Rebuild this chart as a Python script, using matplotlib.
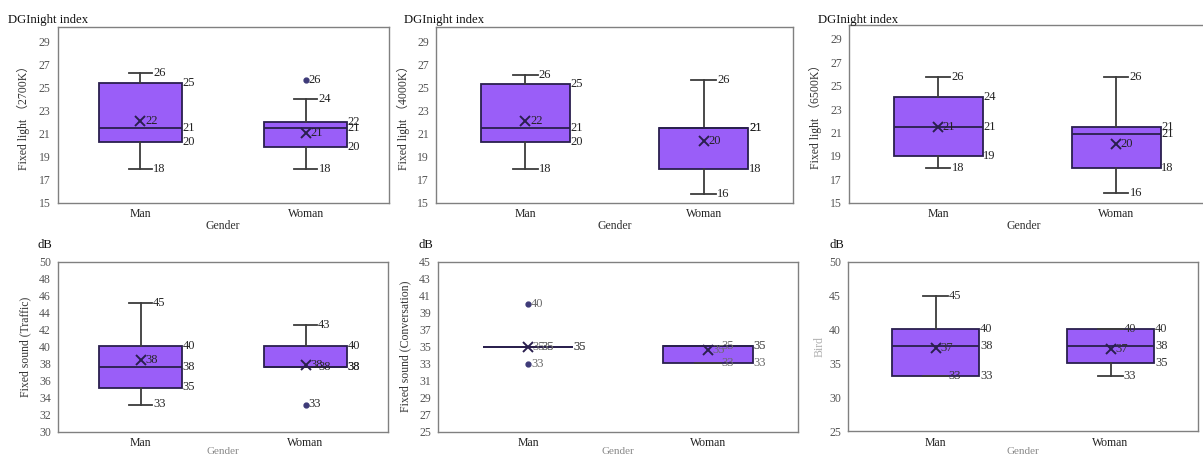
import matplotlib
matplotlib.use("Agg")
import matplotlib.pyplot as plt

plt.rcParams['font.family'] = ['Liberation Serif', 'Noto Sans CJK SC', 'DejaVu Sans']

# ---------------- data ----------------
categories = ["Man", "Woman"]
titles = ["DGInight index", "DGInight index", "DGInight index", "dB", "dB", "dB"]
ylabels = ["Fixed light （2700K）", "Fixed light （4000K）", "Fixed light （6500K）",
           "Fixed sound (Traffic)", "Fixed sound (Conversation)", "Bird"]
xlabel = "Gender"

whislo = [[17.9, 17.9], [17.9, 15.75], [18.0, 15.8], [33.2, 37.6], [35.0, 33.05], [33.2, 33.1]]
q1     = [[20.25, 19.8], [20.25, 17.9], [18.95, 18.0], [35.2, 37.6], [35.0, 33.05], [33.2, 35.0]]
med    = [[21.45, 21.45], [21.45, 21.45], [21.45, 20.85], [37.6, 37.6], [35.0, 35.05], [37.55, 37.55]]
q3     = [[25.4, 22.0], [25.3, 21.45], [24.0, 21.45], [40.08, 40.08], [35.0, 35.05], [40.05, 40.05]]
whishi = [[26.2, 23.96], [26.04, 25.6], [25.7, 25.7], [45.1, 42.6], [35.0, 35.05], [45.0, 40.05]]
means  = [[22.1, 21.0], [22.06, 20.36], [21.45, 20.0], [38.4, 37.85], [35.0, 34.6], [37.3, 37.2]]
fliers = [[[], [25.6]], [[], []], [[], []], [[], [33.2]], [[40.05, 33.0], []], [[], []]]

ylims = [(15, 30.2), (15, 30.2), (15, 30.2), (30, 50), (25, 45), (25, 50)]
yticks = [list(range(15, 30, 2))] * 3 + [list(range(30, 51, 2)), list(range(25, 46, 2)), list(range(25, 51, 5))]

# ---------------- layout (pixels) ----------------
W, H = 1203, 457
axes_px = [(57.5, 27.3, 388.5, 202.7), (436, 27.3, 793, 202.7), (849, 24.7, 1205, 202.7),
           (58, 261.7, 388, 431.7), (438, 261.7, 798, 431.7), (848, 262, 1198, 431)]
title_px = [(8, 20), (404, 20), (818, 20), (37, 245.5), (418, 245.5), (829, 245.5)]
ylabel_x = [23, 403, 815, 25, 405, 820]
gender_y = [226, 226, 226, 452, 452, 452]

FILL = '#9a5ef8'
EDGE = '#2a1f4e'
WHISK = '#3c3c3c'
FLIER = '#3d3a78'
label_colors = ['#222222', '#222222', '#222222', '#262626', '#6a6a6a', '#333333']
ylabel_colors = ['#333333'] * 5 + ['#b0b0b0']
gender_colors = ['#333333'] * 3 + ['#8a8a8a'] * 3

fig = plt.figure(figsize=(W / 100, H / 100), dpi=100)

positions = [1, 2]
box_w = 0.5
cap_w = 0.14

for i in range(6):
    l, t, r, b = axes_px[i]
    ax = fig.add_axes([l / W, 1 - b / H, (r - l) / W, (b - t) / H])
    stats = []
    for j, c in enumerate(categories):
        stats.append(dict(label=c, whislo=whislo[i][j], q1=q1[i][j], med=med[i][j],
                          q3=q3[i][j], whishi=whishi[i][j], mean=means[i][j],
                          fliers=fliers[i][j]))
    ax.bxp(stats, positions=positions, widths=box_w, capwidths=cap_w,
           showmeans=True, patch_artist=True,
           boxprops=dict(facecolor=FILL, edgecolor=EDGE, linewidth=1.3),
           medianprops=dict(color=EDGE, linewidth=1.3),
           whiskerprops=dict(color=WHISK, linewidth=1.3),
           capprops=dict(color=WHISK, linewidth=1.3),
           meanprops=dict(marker='x', markeredgecolor=EDGE, markerfacecolor=EDGE,
                          markersize=7, markeredgewidth=1.4),
           flierprops=dict(marker='o', markerfacecolor=FLIER, markeredgecolor=FLIER,
                           markersize=3.5))
    lc = label_colors[i]
    fs = 9
    for j, pos in enumerate(positions):
        for v in (whishi[i][j], whislo[i][j]):
            ax.annotate(f"{v:.0f}", (pos + cap_w / 2, v), xytext=(0.8, 0),
                        textcoords='offset points', ha='left', va='center',
                        fontsize=fs, color=lc)
        for v in (q3[i][j], med[i][j], q1[i][j]):
            ax.annotate(f"{v:.0f}", (pos + box_w / 2, v), xytext=(0.5, 0),
                        textcoords='offset points', ha='left', va='center',
                        fontsize=fs, color=lc)
        ax.annotate(f"{means[i][j]:.0f}", (pos, means[i][j]), xytext=(3.5, 0),
                    textcoords='offset points', ha='left', va='center',
                    fontsize=fs, color=lc)
        for v in fliers[i][j]:
            ax.annotate(f"{v:.0f}", (pos, v), xytext=(2.2, 0),
                        textcoords='offset points', ha='left', va='center',
                        fontsize=fs, color=lc)

    ax.set_xlim(0.5, 2.5)
    ax.set_ylim(*ylims[i])
    ax.set_yticks(yticks[i])
    ax.set_yticklabels([str(v) for v in yticks[i]])
    ax.set_xticks(positions)
    ax.set_xticklabels(categories)
    ax.tick_params(axis='y', length=0, pad=5, labelsize=8.5, labelcolor='#555555')
    ax.tick_params(axis='x', length=0, pad=4, labelsize=8.5, labelcolor='#222222')
    for s in ax.spines.values():
        s.set_color('#808080')
        s.set_linewidth(1.0)
    ax.set_ylabel(ylabels[i], fontsize=8.5, color=ylabel_colors[i])
    ax.yaxis.set_label_coords(-(l - ylabel_x[i]) / (r - l), 0.5)
    ax.yaxis.label.set_va('center')

    tx, ty = title_px[i]
    fig.text(tx / W, 1 - ty / H, titles[i], fontsize=9.2, color='#111111',
             ha='left', va='center')
    fig.text((l + r) / 2 / W if i != 2 else (l + 1198) / 2 / W, 1 - gender_y[i] / H,
             xlabel, fontsize=8.5 if i < 3 else 8, color=gender_colors[i],
             ha='center', va='center')

fig.savefig("out.png", dpi=100)
